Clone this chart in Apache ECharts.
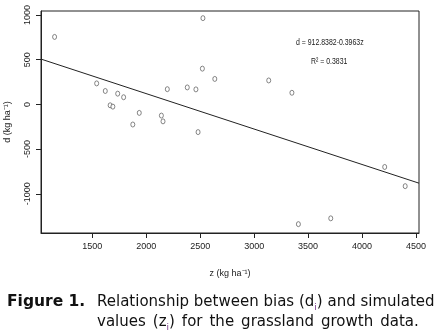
<!DOCTYPE html>
<html>
<head>
<meta charset="utf-8">
<script src="https://cdn.jsdelivr.net/npm/echarts@6/dist/echarts.min.js"></script>
<style>
html,body{margin:0;padding:0;background:#fff;}
#chart{width:439px;height:332px;}
</style>
</head>
<body>
<div id="chart"></div>
<script>
// Simulated values z (kg ha-1)
var zValues = [1150, 1540, 1620, 1665, 1690, 1735, 1790, 1875, 1935, 2140, 2155, 2195,
               2380, 2460, 2480, 2520, 2525, 2635, 3135, 3350, 3410, 3710, 4210, 4400];
// Bias d (kg ha-1)
var dValues = [755, 235, 150, -10, -25, 120, 80, -225, -95, -125, -190, 170,
               190, 168, -310, 400, 965, 285, 268, 130, -1340, -1275, -700, -915];
// Regression d = a + b z
var intercept = 912.8382;
var slope = -0.3963;
var r2 = 0.3831;
var xTicks = [1500, 2000, 2500, 3000, 3500, 4000, 4500];
var yTicks = [-1000, -500, 0, 500, 1000];
var xMin = 1024, xMax = 4528, yMin = -1439, yMax = 1045;

var points = zValues.map(function (z, i) { return [z, dValues[i]]; });
var fitLine = [[xMin, intercept + slope * xMin], [xMax, intercept + slope * xMax]];

var plotFont = '"Liberation Sans Narrow", "Liberation Sans", Arial, sans-serif';
var capFont = '"DejaVu Sans", Verdana, sans-serif';
var ink = '#222';
function plain(v) { return String(v); }

var chart = echarts.init(document.getElementById('chart'), null, {renderer: 'canvas'});
chart.setOption({
  animation: false,
  backgroundColor: '#fff',
  grid: {left: 41, right: 20, top: 11, bottom: 99, show: true, borderColor: ink, borderWidth: 1,
         containLabel: false, outerBoundsMode: 'none'},
  xAxis: {
    type: 'value', min: xMin, max: xMax,
    axisLine: {show: true, onZero: false, lineStyle: {color: ink, width: 1}},
    axisTick: {show: true, length: 5, lineStyle: {color: ink}, customValues: xTicks},
    axisLabel: {color: ink, fontFamily: plotFont, fontSize: 9, margin: 9, customValues: xTicks, formatter: plain},
    splitLine: {show: false},
    name: 'z (kg ha\u207B\u00B9)', nameLocation: 'middle', nameGap: 36,
    nameTextStyle: {color: ink, fontFamily: plotFont, fontSize: 9}
  },
  yAxis: {
    type: 'value', min: yMin, max: yMax,
    axisLine: {show: true, onZero: false, lineStyle: {color: ink, width: 1}},
    axisTick: {show: true, length: 5, lineStyle: {color: ink}, customValues: yTicks},
    axisLabel: {color: ink, fontFamily: plotFont, fontSize: 9, margin: 9, rotate: 90, customValues: yTicks, formatter: plain},
    splitLine: {show: false},
    name: 'd (kg ha\u207B\u00B9)', nameLocation: 'middle', nameGap: 29,
    nameTextStyle: {color: ink, fontFamily: plotFont, fontSize: 9}
  },
  series: [
    {
      type: 'scatter', data: points, symbol: 'circle', symbolSize: [4, 5],
      itemStyle: {color: '#fff', borderColor: '#444', borderWidth: 0.8}
    },
    {
      type: 'line', data: fitLine, symbol: 'none', silent: true,
      lineStyle: {color: ink, width: 1}
    }
  ],
  graphic: [
    {type: 'text', left: 296, top: 38, scaleX: 0.77, style: {text: 'd = ' + intercept.toFixed(4) + slope.toFixed(4) + 'z', fill: ink, font: '9px ' + plotFont}},
    {type: 'text', left: 311, top: 57, scaleX: 0.77, style: {text: 'R\u00B2 = ' + r2.toFixed(4), fill: ink, font: '9px ' + plotFont}},
    {type: 'text', left: 7, top: 294, style: {text: 'Figure 1.', fill: '#111', font: 'bold 15.5px ' + capFont}},
    {type: 'text', left: 97, top: 292, style: {
      text: 'Relationship between bias (d{s|i}) and simulated\nvalues{w| }(z{s|i}){w| }for{w| }the{w| }grassland{w| }growth{w| }data.',
      fill: '#111', font: '15px ' + capFont, lineHeight: 20,
      rich: {
        s: {fontSize: 9, fill: '#7a3a8c', fontFamily: capFont, verticalAlign: 'bottom', lineHeight: 12},
        w: {width: 7, fontSize: 15, fontFamily: capFont, lineHeight: 20}
      }
    }}
  ]
});
</script>
</body>
</html>
